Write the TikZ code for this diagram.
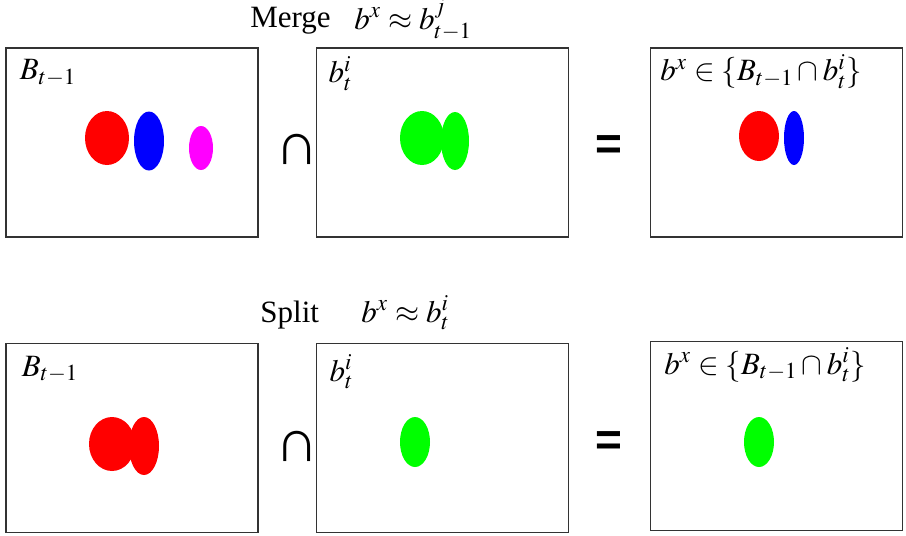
\documentclass[tikz,border=0pt]{standalone}
\usepackage{mathptmx}
\usepackage{fontspec}
\setmainfont{Liberation Serif}
\newfontfamily\opfont{Liberation Sans}
\usetikzlibrary{positioning}

\definecolor{blobred}{RGB}{255,0,0}
\definecolor{blobblue}{RGB}{0,0,255}
\definecolor{blobpink}{RGB}{255,0,255}
\definecolor{blobgreen}{RGB}{0,255,0}

\begin{document}
\begin{tikzpicture}[
        x=0.5pt, y=-0.5pt,
        frame/.style={rectangle, draw=black!80, line width=0.6pt, minimum width=126pt, minimum height=94.5pt, inner sep=0pt},
        tag/.style={anchor=north west, inner sep=0pt, font=\fontsize{15.5}{17}\selectfont},
        title/.style={anchor=base west, inner sep=0pt, font=\fontsize{15.5}{17}\selectfont},
        op/.style={inner sep=0pt, font=\opfont\bfseries\fontsize{30}{32}\selectfont},
        eqop/.style={inner sep=0pt, font=\opfont\bfseries\fontsize{23}{25}\selectfont}
    ]
    \useasboundingbox (0,0) rectangle (906,536);

    % Merge row
    \node [frame] (mprev) at (132,142.5) {};
    \node [frame, right=28.8pt of mprev] (mcur) {};
    \node [frame, right=40.3pt of mcur] (mres) {};

    \node [title] (mword) at (250,27) {Merge};
    \node [title] (meq) at (354,29) {$b^x \approx b^j_{t-1}$};

    \node [tag] (mprevtag) at ([shift={(7pt,-6pt)}]mprev.north west) {$B_{t-1}$};
    \node [tag] (mcurtag) at ([shift={(6pt,-4.5pt)}]mcur.north west) {$b^i_t$};
    \node [tag] (mrestag) at ([shift={(5pt,-3.5pt)}]mres.north west) {$b^x \in \{B_{t-1} \cap b^i_t\}$};

    \node [op] (mcap) at (297,149) {∩};
    \node [eqop] (meql) at (609,148) {=};

    \fill [blobred] (107,138) ellipse (22 and 27);
    \fill [blobblue] (149,141) ellipse (15 and 29.5);
    \fill [blobpink] (201,148) ellipse (12 and 22);
    \fill [blobgreen] (422,138) ellipse (22 and 27);
    \fill [blobgreen] (455,141) ellipse (14 and 29);
    \fill [blobred] (759,136) ellipse (20 and 25);
    \fill [blobblue] (794,138) ellipse (10 and 27);

    % Split row
    \node [frame, below=52.5pt of mprev] (sprev) {};
    \node [frame, right=28.8pt of sprev] (scur) {};
    \node [frame, right=40.3pt of scur, yshift=1pt] (sres) {};

    \node [title] (sword) at (260,322) {Split};
    \node [title] (seq) at (361,322) {$b^x \approx b^i_t$};

    \node [tag] (sprevtag) at ([shift={(8pt,-6.5pt)}]sprev.north west) {$B_{t-1}$};
    \node [tag] (scurtag) at ([shift={(6.5pt,-6pt)}]scur.north west) {$b^i_t$};
    \node [tag] (srestag) at ([shift={(7pt,-3.5pt)}]sres.north west) {$b^x \in \{B_{t-1} \cap b^i_t\}$};

    \node [op] (scap) at (297,446) {∩};
    \node [eqop] (seql) at (609,444) {=};

    \fill [blobred] (112,444) ellipse (23 and 27);
    \fill [blobred] (144,446) ellipse (15 and 29);
    \fill [blobgreen] (415,442) ellipse (15 and 25);
    \fill [blobgreen] (759,442) ellipse (15 and 25);

\end{tikzpicture}
\end{document}
